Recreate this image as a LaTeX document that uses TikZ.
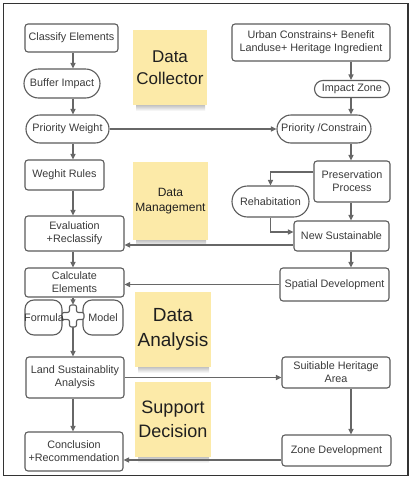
\documentclass[tikz,border=0pt]{standalone}
\usepackage{fontspec}
\setmainfont{Liberation Sans}
\usetikzlibrary{arrows.meta,calc}
\definecolor{edgec}{HTML}{5C5C5C}
\definecolor{linec}{HTML}{676767}
\definecolor{txtc}{HTML}{3A3A3A}
\definecolor{stickyc}{RGB}{252,234,168}
\newcommand{\nodefnt}{\fontsize{10.8}{13}\selectfont}
\tikzset{
  box/.style={draw=edgec, line width=1.1pt, fill=white, rounded corners=3pt,
    text=txtc, font=\nodefnt, align=center, inner sep=0pt},
  pill/.style={box, rounded corners=#1},
  sticky/.style={fill=stickyc, draw=none, text=black!88, align=center, inner sep=0pt},
  conn/.style={draw=linec, line width=1.1pt, -{Triangle[length=5.5pt,width=5pt]}},
  plain/.style={draw=linec, line width=1.1pt},
}
\newcommand{\stickyshadow}[4]{%
  \shade[top color=black!40, bottom color=white] (#1+3,#4-4) rectangle (#3-2,#4+6);}
\begin{document}
\begin{tikzpicture}[x=1pt,y=-1pt]
\useasboundingbox (0,0) rectangle (413,480);
\fill[white] (0,0) rectangle (413,480);
\draw[line width=1.5pt, draw=black!80] (3.5,3.5) rectangle (408,475.5);

\coordinate (colL) at (73,0);
\coordinate (colR) at (351,0);

% sticky notes
\stickyshadow{133}{30}{207}{105}
\stickyshadow{133}{162}{208}{240}
\stickyshadow{135}{292}{211}{367}
\stickyshadow{135}{382}{211}{457}
\node[sticky, minimum width=74pt, minimum height=75pt, font=\fontsize{17}{22}\selectfont] (dc) at (170,67.5) {Data\\Collector};
\node[sticky, minimum width=75pt, minimum height=78pt, font=\fontsize{12}{15}\selectfont] (dm) at (170.5,201) {Data\\Management};
\node[sticky, minimum width=76pt, minimum height=75pt, font=\fontsize{19}{25}\selectfont] (da) at (173,329.5) {Data\\Analysis};
\node[sticky, minimum width=76pt, minimum height=75pt, font=\fontsize{18}{24}\selectfont] (sd) at (173,419.5) {Support\\Decision};

% left column
\node[box, minimum width=93pt, minimum height=28pt] (classify) at (71.5,38) {Classify Elements};
\node[pill=14.5pt, minimum width=76pt, minimum height=29pt] (buffer) at (62,83.5) {Buffer Impact};
\node[pill=14pt, minimum width=83pt, minimum height=28pt] (pweight) at (67.5,129) {Priority Weight};
\node[box, minimum width=79pt, minimum height=30pt] (weghit) at (64.5,175) {Weghit Rules};
\node[box, minimum width=99pt, minimum height=35pt] (eval) at (74.5,233.5) {Evaluation\\+Reclassify};
\node[box, minimum width=99pt, minimum height=29pt] (calc) at (74.5,282.5) {Calculate\\Elements};
\node[box, rounded corners=9pt, minimum width=37pt, minimum height=35pt] (formula) at (43.5,317.5) {};
\node[box, rounded corners=9pt, minimum width=40pt, minimum height=35pt] (model) at (103,317.5) {Model};
\node[inner sep=0pt, minimum width=22pt, minimum height=22pt] (cross) at (73,316) {};
\draw[draw=edgec, line width=1.1pt, fill=white, rounded corners=2pt]
  (69.5,305) -- (76.5,305) -- (76.5,312.5) -- (84,312.5) -- (84,319.5) -- (76.5,319.5)
  -- (76.5,327) -- (69.5,327) -- (69.5,319.5) -- (62,319.5) -- (62,312.5) -- (69.5,312.5) -- cycle;
\node[text=txtc, font=\nodefnt, inner sep=0pt] (formulatxt) at (44,317.5) {Formula};
\node[box, minimum width=98pt, minimum height=41pt] (land) at (75,377.5) {Land Sustainablity\\Analysis};
\node[box, minimum width=98pt, minimum height=39pt] (concl) at (74,451.5) {Conclusion\\+Recommendation};

% right column
\node[box, minimum width=158pt, minimum height=37pt] (urban) at (311,42.5) {Urban Constrains+ Benefit\\Landuse+ Heritage Ingredient};
\node[pill=8.5pt, minimum width=75pt, minimum height=17pt] (impact) at (352,89) {Impact Zone};
\node[pill=14pt, minimum width=94pt, minimum height=28pt] (pconst) at (324,129) {Priority /Constrain};
\node[box, minimum width=76pt, minimum height=41pt] (pres) at (352,181.5) {Preservation\\Process};
\node[pill=15.5pt, minimum width=77pt, minimum height=31pt] (rehab) at (270.5,201.5) {Rehabitation};
\node[box, minimum width=95pt, minimum height=30pt] (newsust) at (341.5,236) {New Sustainable};
\node[box, minimum width=109pt, minimum height=33pt] (spatial) at (334.5,284.5) {Spatial Development};
\node[box, minimum width=108pt, minimum height=31pt] (suitable) at (336,372.5) {Suitiable Heritage\\Area};
\node[box, minimum width=109pt, minimum height=31pt] (zonedev) at (336.5,450.5) {Zone Development};

% vertical connectors left
\draw[conn] (classify.south -| colL) -- (buffer.north -| colL);
\draw[conn] (buffer.south -| colL) -- (pweight.north -| colL);
\draw[conn] (pweight.south -| colL) -- (weghit.north -| colL);
\draw[conn] (weghit.south -| colL) -- (eval.north -| colL);
\draw[conn] (eval.south -| colL) -- (calc.north -| colL);
\draw[conn] (calc.south -| colL) -- (cross.north);
\draw[conn] (cross.south) -- (land.north -| colL);
\draw[conn] (land.south -| colL) -- (concl.north -| colL);

% vertical connectors right
\draw[conn] (urban.south -| colR) -- (impact.north -| colR);
\draw[conn] (impact.south -| colR) -- (pconst.north -| colR);
\draw[conn] (pconst.south -| colR) -- (pres.north -| colR);
\draw[conn] (pres.south -| colR) -- (newsust.north -| colR);
\draw[conn] (newsust.south -| colR) -- (spatial.north -| colR);
\draw[conn] (suitable.south -| colR) -- (zonedev.north -| colR);

% horizontal connectors
\draw[conn] (pweight.east) -- (pweight.east -| pconst.west);
\coordinate (p1) at ([yshift=9.5pt]pres.west);
\draw[conn] (p1) -| (rehab.north);
\coordinate (n2) at ([yshift=4pt]newsust.west);
\draw[conn] (rehab.south) |- (n2);
\coordinate (n1) at ([yshift=-9pt]newsust.west);
\draw[conn] (n1) -- (n1 -| eval.east);
\draw[conn] (spatial.west) -- (spatial.west -| calc.east);
\draw[conn] (land.east) -- (land.east -| suitable.west);
\coordinate (z1) at ([yshift=-9.5pt]zonedev.west);
\draw[conn] (z1) -- (z1 -| concl.east);
\end{tikzpicture}
\end{document}
